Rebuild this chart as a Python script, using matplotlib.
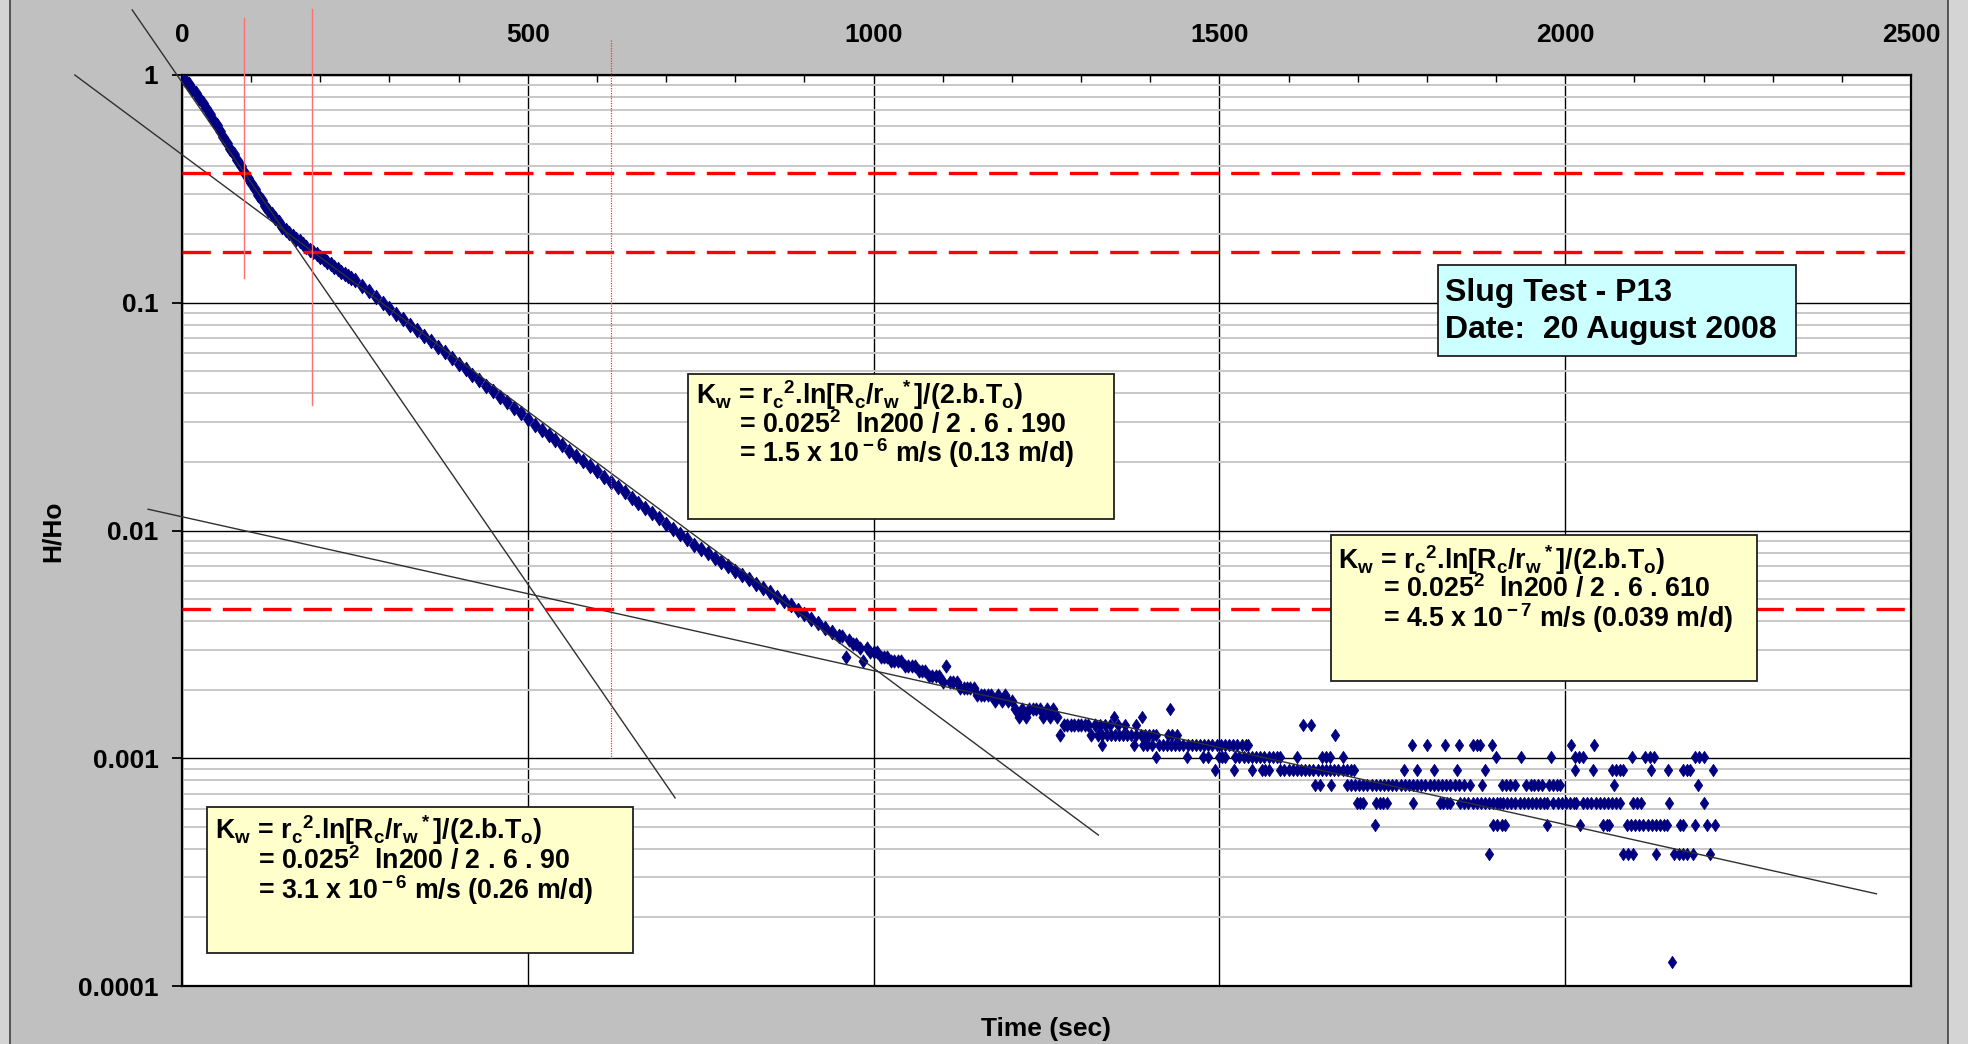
import matplotlib.pyplot as plt
import numpy as np
from matplotlib.patches import Rectangle
from matplotlib.lines import Line2D
from matplotlib.path import Path
from matplotlib.ticker import FixedLocator, NullFormatter

plt.rcParams['font.family'] = ['Liberation Sans', 'DejaVu Sans']
plt.rcParams['font.weight'] = 'bold'
plt.rcParams['mathtext.fontset'] = 'custom'
plt.rcParams['mathtext.rm'] = 'Liberation Sans:bold'
plt.rcParams['mathtext.it'] = 'Liberation Sans:bold'
plt.rcParams['mathtext.bf'] = 'Liberation Sans:bold'

# ---- slug test record P13 -------------------------------------------------
# early recovery, H/Ho read every 5 s up to 245 s, then every 10 s
early_t = list(range(0, 250, 5)) + list(range(250, 951, 10))
early_h = [1.000, 0.955, 0.911, 0.870, 0.831, 0.793, 0.757, 0.716, 0.675, 0.637,
           0.601, 0.566, 0.535, 0.504, 0.474, 0.448, 0.422, 0.397, 0.374, 0.354,
           0.334, 0.316, 0.298, 0.282, 0.267, 0.256, 0.246, 0.236, 0.226, 0.216,
           0.208, 0.202, 0.197, 0.191, 0.186, 0.181, 0.175, 0.171, 0.167, 0.163,
           0.159, 0.155, 0.151, 0.148, 0.144, 0.141, 0.137, 0.134, 0.131, 0.128,
           0.126, 0.1189, 0.1122, 0.1062, 0.1002, 0.0948, 0.0897, 0.0847, 0.0802, 0.0759,
           0.0716, 0.0678, 0.0640, 0.0605, 0.0573, 0.0541, 0.0512, 0.0483, 0.0457, 0.0433,
           0.0408, 0.0386, 0.0365, 0.0345, 0.0327, 0.0308, 0.0292, 0.0277, 0.0263, 0.0249,
           0.0237, 0.0224, 0.0213, 0.0202, 0.0191, 0.0182, 0.0172, 0.0163, 0.0155, 0.0147,
           0.0139, 0.0132, 0.0126, 0.0119, 0.0113, 0.0107, 0.0102, 0.00964, 0.00914, 0.00867,
           0.00828, 0.00793, 0.00759, 0.00726, 0.00695, 0.00665, 0.00637, 0.00610, 0.00583, 0.00558,
           0.00535, 0.00512, 0.00490, 0.00469, 0.00448, 0.00429, 0.00409, 0.00391, 0.00374, 0.00358,
           0.00345]

# transducer resolution as a fraction of Ho; later readings are whole counts of it
count_step = 1.27e-4

mid_t = list(range(955, 1326, 5))
mid_count = [27, 22, 26, 25, 25, 24, 21, 24, 23, 23,
             23, 22, 22, 22, 21, 21, 21, 21, 20, 20,
             20, 20, 19, 19, 19, 18, 18, 18, 18, 17,
             20, 17, 17, 17, 16, 16, 16, 16, 16, 15,
             15, 15, 15, 15, 14, 15, 14, 15, 14, 14,
             13, 12, 13, 12, 13, 13, 13, 13, 12, 13,
             12, 13, 12, 10, 11, 11, 11, 11, 11, 11,
             11, 11, 10, 11, 10]

# late tail: times (s) at which each count level was logged
tail_counts = [13, 12, 11, 10, 9, 8, 7, 6, 5, 4, 3, 1]
tail_times = [
    [1428],
    [1347, 1388],
    [1327, 1335, 1342, 1354, 1364, 1380, 1621, 1633],
    [1330, 1337, 1343, 1349, 1355, 1361, 1367, 1372, 1380, 1386, 1392, 1398, 1404, 1408,
     1426, 1432, 1438, 1667],
    [1330, 1376, 1390, 1396, 1402, 1412, 1418, 1424, 1430, 1436, 1442, 1448, 1454, 1460,
     1466, 1472, 1478, 1484, 1490, 1496, 1502, 1508, 1514, 1520, 1526, 1532, 1538, 1542,
     1778, 1800, 1826, 1846, 1867, 1872, 1877, 1894, 2009, 2042],
    [1409, 1453, 1477, 1484, 1499, 1504, 1508, 1523, 1529, 1535, 1541, 1547, 1553, 1559,
     1565, 1571, 1577, 1583, 1588, 1612, 1648, 1654, 1660, 1678, 1900, 1936, 1980, 2014,
     2020, 2026, 2097, 2115, 2122, 2129, 2188, 2194, 2200],
    [1494, 1521, 1547, 1561, 1566, 1571, 1588, 1594, 1600, 1606, 1612, 1618, 1624, 1630,
     1636, 1642, 1648, 1654, 1660, 1666, 1672, 1678, 1684, 1690, 1694, 1767, 1786, 1810,
     1843, 1884, 2014, 2040, 2067, 2073, 2079, 2084, 2124, 2148, 2171, 2176, 2180, 2214],
    [1638, 1645, 1662, 1684, 1690, 1696, 1702, 1708, 1714, 1720, 1726, 1732, 1738, 1744,
     1750, 1756, 1762, 1768, 1774, 1780, 1786, 1792, 1798, 1804, 1810, 1816, 1822, 1828,
     1834, 1840, 1846, 1853, 1863, 1880, 1908, 1914, 1920, 1928, 1944, 1950, 1955, 1961,
     1966, 1976, 1982, 1988, 1993, 2070, 2192],
    [1699, 1704, 1708, 1727, 1732, 1737, 1742, 1780, 1819, 1824, 1829, 1834, 1848, 1854,
     1860, 1866, 1872, 1878, 1884, 1890, 1896, 1902, 1906, 1910, 1916, 1922, 1928, 1934,
     1940, 1946, 1952, 1958, 1964, 1970, 1973, 1983, 1989, 1995, 2001, 2007, 2013, 2016,
     2026, 2032, 2038, 2044, 2050, 2056, 2062, 2068, 2074, 2079, 2098, 2104, 2110, 2150,
     2200],
    [1725, 1896, 1902, 1908, 1913, 1973, 2022, 2055, 2060, 2064, 2089, 2095, 2101, 2107,
     2113, 2119, 2125, 2131, 2137, 2143, 2147, 2166, 2171, 2188, 2205, 2217],
    [1890, 2084, 2091, 2098, 2132, 2158, 2164, 2170, 2176, 2185, 2209],
    [2155],
]

# straight-line fits (end points) for the three recovery stages, To = 90, 190, 610 s
fit_t = [[-72, 713], [-155, 1325], [-49, 2450]]
fit_h = [[1.93, 6.7e-4], [1.0, 4.6e-4], [0.0124, 2.54e-4]]

# 0.37 x intercept levels and the To markers
level_h = [0.37, 0.167, 0.0045]
to_t = [89, 188]
to_top = [1.78, 1.95]
to_bottom = [0.1285, 0.0356]
to3_t = 620
to3_range = [1.42, 0.001]

x_ticks = [0, 500, 1000, 1500, 2000, 2500]
y_ticks = [1e-4, 1e-3, 1e-2, 1e-1, 1]
y_tick_labels = ['0.0001', '0.001', '0.01', '0.1', '1']

kw_line = r'K$_{\rm w}$ = r$_{\rm c}$$^{\rm 2}$.ln[R$_{\rm c}$/r$_{\rm w}$$^{\rm *}$]/(2.b.T$_{\rm o}$)'
box_calcs = [
    ('= 0.025$^{\\rm 2}$  ln200 / 2 . 6 . 90', '= 3.1 x 10$^{\\rm -6}$ m/s (0.26 m/d)'),
    ('= 0.025$^{\\rm 2}$  ln200 / 2 . 6 . 190', '= 1.5 x 10$^{\\rm -6}$ m/s (0.13 m/d)'),
    ('= 0.025$^{\\rm 2}$  ln200 / 2 . 6 . 610', '= 4.5 x 10$^{\\rm -7}$ m/s (0.039 m/d)'),
]

# ---- figure ---------------------------------------------------------------
W, H = 1968, 1044
fig = plt.figure(figsize=(W / 100, H / 100), dpi=100, facecolor='#c0c0c0')


def fx(px):
    return px / W


def fy(py):
    return 1 - py / H


# outer frame of the chart sheet
fig.patches.append(Rectangle((0, 0), fx(10), 1, transform=fig.transFigure,
                             fc='#d4d4d4', ec='none'))
fig.patches.append(Rectangle((fx(1948), 0), fx(20), 1, transform=fig.transFigure,
                             fc='#d4d4d4', ec='none'))
fig.lines.append(Line2D([fx(10), fx(10)], [0, 1], transform=fig.transFigure,
                        color='#404040', lw=1.2))
fig.lines.append(Line2D([fx(1948), fx(1948)], [0, 1], transform=fig.transFigure,
                        color='#404040', lw=1.2))

ax = fig.add_axes([fx(182), fy(986), fx(1911 - 182), (986 - 75) / H])
ax.set_facecolor('white')
ax.set_xlim(0, 2500)
ax.set_yscale('log')
ax.set_ylim(1e-4, 1)

ax.xaxis.tick_top()
ax.set_xticks(x_ticks)
ax.xaxis.set_minor_locator(FixedLocator([t for t in range(100, 2500, 100) if t % 500]))
ax.tick_params(axis='x', which='major', length=0, pad=20, labelsize=19)
ax.tick_params(axis='x', which='minor', direction='in', length=5, width=1.0, top=True)
ax.set_yticks(y_ticks)
ax.set_yticklabels(y_tick_labels)
ax.yaxis.set_minor_formatter(NullFormatter())
ax.tick_params(axis='y', which='major', length=7, width=1.3, pad=10, labelsize=19)
ax.tick_params(axis='y', which='minor', length=0)

ax.grid(which='major', color='black', lw=1.0)
ax.grid(which='minor', axis='y', color='#c8c8c8', lw=1.4)
ax.grid(which='minor', axis='x', visible=False)
for sp in ax.spines.values():
    sp.set_linewidth(1.6)
    sp.set_color('black')

# data markers (small navy diamonds)
diamond = Path([(0, 1), (0.68, 0), (0, -1), (-0.68, 0), (0, 1)],
               [Path.MOVETO, Path.LINETO, Path.LINETO, Path.LINETO, Path.CLOSEPOLY])
mk = dict(ls='none', marker=diamond, mfc='#000080', mec='#000080', mew=0.6, zorder=3)

ax.plot(early_t, early_h, ms=10.5, **mk)
ax.plot(mid_t, np.array(mid_count) * count_step, ms=9.5, **mk)
for cnt, times in zip(tail_counts, tail_times):
    ax.plot(times, np.full(len(times), cnt * count_step), ms=8.8, **mk)

for ft, fh in zip(fit_t, fit_h):
    ax.plot(ft, fh, color='#303030', lw=1.0, zorder=4, clip_on=False)

for lv in level_h:
    ax.axhline(lv, color='#ff0000', lw=2.4, dashes=(8.5, 3.6), zorder=5)

for t, top, bot in zip(to_t, to_top, to_bottom):
    ax.plot([t, t], [top, bot], color='#ff7070', lw=1.0, zorder=5, clip_on=False)
ax.plot([to3_t, to3_t], to3_range, color='#ff3030', lw=0.9, ls=(0, (1, 1)),
        zorder=5, clip_on=False)

fig.text(fx(53), fy(531), 'H/Ho', rotation=90, ha='center', va='center', fontsize=19)
fig.text(fx(1046), fy(1029), 'Time (sec)', ha='center', va='center', fontsize=19)


# annotation boxes
def note_box(x0, y0, x1, y1, fc):
    fig.patches.append(Rectangle((fx(x0), fy(y1)), fx(x1 - x0), (y1 - y0) / H,
                                 transform=fig.transFigure, fc=fc, ec='#202020', lw=1.3))


box_frames = [(207, 807, 633, 953), (688, 374, 1114, 519), (1331, 535, 1757, 681)]
box_text_x = [(215, 258), (696, 739), (1338, 1383)]
box_base = [(839, 869, 899), (404, 433, 462), (569, 597, 627)]
for frame, (xk, xe), base, (calc, result) in zip(box_frames, box_text_x, box_base, box_calcs):
    note_box(*frame, fc='#ffffcc')
    fig.text(fx(xk), fy(base[0]), kw_line, fontsize=19.3, va='baseline')
    fig.text(fx(xe), fy(base[1]), calc, fontsize=19.3, va='baseline')
    fig.text(fx(xe), fy(base[2]), result, fontsize=19.3, va='baseline')

note_box(1438, 265, 1796, 356, fc='#ccffff')
fig.text(fx(1445), fy(301), 'Slug Test - P13', fontsize=23, va='baseline')
fig.text(fx(1445), fy(338), 'Date:  20 August 2008', fontsize=23, va='baseline')

fig.savefig('out.png', dpi=100, facecolor=fig.get_facecolor())
